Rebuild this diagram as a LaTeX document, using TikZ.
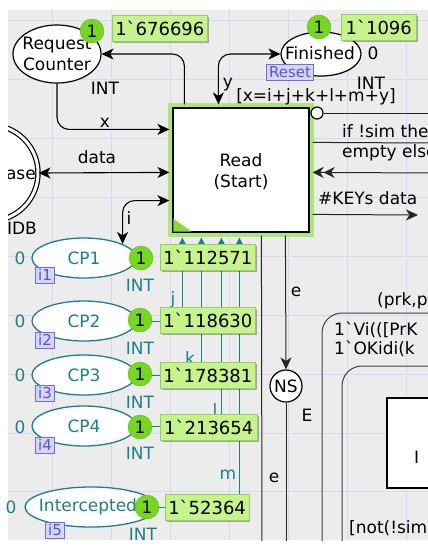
\documentclass[tikz,border=0pt]{standalone}
\usepackage{fontspec}
\newfontfamily\cpnfont{DejaVu Sans}
\usetikzlibrary{arrows.meta,shapes.geometric,calc,shadows}
\definecolor{bg}{RGB}{236,236,236}
\definecolor{gridc}{RGB}{216,216,238}
\definecolor{tokg}{RGB}{118,216,30}
\definecolor{boxg}{RGB}{198,244,140}
\definecolor{boxgb}{RGB}{150,205,100}
\definecolor{tealc}{RGB}{30,128,130}
\definecolor{blueb}{RGB}{110,110,228}
\definecolor{bluef}{RGB}{214,214,250}
\definecolor{bluet}{RGB}{84,84,218}
\definecolor{glowc}{RGB}{176,230,120}
\definecolor{tric}{RGB}{136,218,56}
\tikzset{
  fnt/.style={font=\cpnfont\fontsize{17}{21}\selectfont},
  txt/.style={fnt, inner sep=0pt, align=center},
  ttxt/.style={txt, text=tealc},
  ltxt/.style={fnt, inner sep=0pt, anchor=west},
  bplace/.style={ellipse, draw=black, line width=1.2pt, fill=white, inner sep=0pt},
  tplace/.style={ellipse, draw=tealc, line width=1.3pt, fill=white, inner sep=0pt, minimum width=104pt, minimum height=40pt},
  trans/.style={rectangle, draw=black, line width=1.2pt, fill=white, inner sep=0pt},
  tok/.style={circle, fill=tokg, draw=tokg!85!black, line width=0.4pt, minimum size=24pt, inner sep=0pt, fnt},
  tokbox/.style={rectangle, fill=boxg, draw=boxgb, line width=0.5pt, font=\cpnfont\fontsize{18}{21}\selectfont, inner xsep=3pt, inner ysep=0pt, minimum height=26pt, anchor=west, drop shadow={shadow xshift=1.5pt, shadow yshift=-1.5pt, opacity=0.3, fill=black}},
  ibox/.style={rectangle, draw=blueb, fill=bluef, text=bluet, line width=1pt, font=\cpnfont\fontsize{15}{16}\selectfont, inner xsep=2.5pt, inner ysep=0pt, minimum height=16pt},
  >={Stealth[length=12pt,width=11pt,inset=3.5pt]},
  arc/.style={draw=black, line width=1.1pt, rounded corners=12pt},
  tarc/.style={draw=tealc, line width=1pt, -{Triangle[length=8pt,width=8pt]}},
  pline/.style={draw=black!85, line width=1pt},
}
\begin{document}
\begin{tikzpicture}[x=1pt,y=-1pt]
\useasboundingbox (0,0) rectangle (428,550);
\fill[white] (0,0) rectangle (428,550);
\begin{scope}
\clip (8,10) rectangle (428,540);
\fill[bg] (8,10) rectangle (428,540);
\foreach \gx in {52,111,170,229,288,347,406}{\draw[gridc, line width=0.8pt] (\gx,10) -- (\gx,540);}
\foreach \gy in {20,79,138,197,256,315,374,433,491}{\draw[gridc, line width=0.8pt] (8,\gy) -- (428,\gy);}

% rounded boxes on the right
\draw[black!75, line width=1pt, rounded corners=20pt] (322,560) -- (322,313) -- (445,313);
\draw[black!75, line width=1pt, rounded corners=20pt] (342,560) -- (342,366) -- (445,366);
\draw[black, line width=1.5pt, fill=white] (445,398) -- (387,398) -- (387,488) -- (445,488);
\node[ltxt] (subt) at (414,457) {I};

% places and transition
\node[bplace, minimum width=88pt, minimum height=58pt] (rc) at (57,54) {};
\node[bplace, minimum width=80pt, minimum height=44pt] (fin) at (321,54) {};
\node[circle, draw=black, double, double distance=3pt, line width=1.2pt, fill=white, minimum size=96pt, inner sep=0pt] (db) at (-10,173) {};
\node[tplace] (cp1) at (84,258) {};
\node[tplace] (cp2) at (84,321) {};
\node[tplace] (cp3) at (84,375) {};
\node[tplace] (cp4) at (84,426) {};
\node[tplace, minimum width=132pt] (cpi) at (91,507) {};
\node[circle, draw=black, line width=1.2pt, fill=white, minimum size=32pt, inner sep=0pt, fnt] (ns) at (286,386) {NS};
\node[trans, minimum width=136pt, minimum height=124pt, preaction={draw=glowc, line width=10pt}] (read) at (241,170) {};
\fill[tric] ($(read.south west)+(1,-14)$) -- ($(read.south west)+(1,-1)$) -- ($(read.south west)+(19,-1)$) -- cycle;

% black arcs
\draw[arc, ->] ($(read.north west)+(12,-3)$) |- (rc.east);
\draw[arc, ->] (rc.south) |- ($(read.north west)+(-3,22)$);
\draw[arc, <->] (db.east) -- ($(read.north west)+(-3,65)$);
\draw[arc, <->] (cp1.20) |- ($(read.south west)+(-3,-32)$);
\draw[arc, <->] ($(read.north west)+(46,-3)$) |- (fin.west);

% teal arcs
\draw[tarc] (cp2.east) -| ($(read.south west)+(10,5)$);
\draw[tarc] (cp3.east) -| ($(read.south west)+(29,5)$);
\draw[tarc] (cp4.east) -| ($(read.south west)+(49,5)$);
\draw[tarc] (cpi.east) -| ($(read.south west)+(67,5)$);

% lower arcs
\coordinate (eout) at (262,545);
\draw[pline] ($(read.south west)+(89,3)$) -- (eout);
\draw[pline, ->] ($(read.south west)+(113,3)$) -- (ns.north);
\coordinate (nsout) at (286,545);
\draw[pline] (ns.south) -- (nsout);

% right arcs
\node[circle, draw=black, line width=1.2pt, fill=white, minimum size=12pt, inner sep=0pt] (inh) at (317,113) {};
\coordinate (r1) at (432,113);
\draw[pline] (inh.east) -- (r1);
\coordinate (r2) at (432,143);
\draw[pline] ($(read.north east)+(3,35)$) -- (r2);
\coordinate (r3) at (432,173);
\draw[pline, {Stealth[length=11pt,width=11pt,inset=3.5pt]Stealth[length=11pt,width=11pt,inset=3.5pt]}-] ($(read.north east)+(3,65)$) -- (r3);
\coordinate (r4) at (418,215);
\draw[pline, ->] ($(read.north east)+(3,107)$) -- (r4);

% texts of nodes
\node[txt] (rct) at (57,54) {Request\\Counter};
\node[txt] (fint) at (320,53) {Finished};
\node[txt, anchor=east] (dbt) at (36,173) {Database};
\node[txt] (dbcol) at (22,228) {IDB};
\node[txt] (readt) at (241,172) {Read\\(Start)};
\node[ttxt] (cp1t) at (84,258) {CP1};
\node[ttxt] (cp2t) at (84,321) {CP2};
\node[ttxt] (cp3t) at (84,375) {CP3};
\node[ttxt] (cp4t) at (84,426) {CP4};
\node[ttxt] (cpit) at (88,507) {Intercepted};

% inscriptions
\node[txt] (rcint) at (105,88) {INT};
\node[txt] (lx) at (105,123) {x};
\node[txt] (ldata) at (97,157) {data};
\node[txt] (li) at (129,218) {i};
\node[txt] (ly) at (228,85) {y};
\node[txt] (fin0) at (373,53) {0};
\node[txt] (finint) at (371,83) {INT};
\node[ibox] (reset) at (290,72) {Reset};
\node[txt] (guard) at (316,97) {[x=i+j+k+l+m+y]};
\node[ltxt] (ifsim) at (342,131) {if !sim then};
\node[ltxt] (empt) at (342,153) {empty else};
\node[ltxt] (keys) at (318,198) {\#KEYs data};
\node[txt] (le1) at (296,292) {e};
\node[txt] (lE) at (307,415) {E};
\node[txt] (le2) at (274,478) {e};
\node[ltxt] (prk) at (377,301) {(prk,pk};
\node[ltxt] (vi) at (334,330) {1`Vi(([PrK};
\node[ltxt] (oki) at (334,349) {1`OKidi(k};
\node[ltxt] (notsim) at (349,528) {[not(!sim};

\node[ttxt] (lj) at (173,300) {j};
\node[ttxt] (lk) at (190,358) {k};
\node[ttxt] (ll) at (215,410) {l};
\node[ttxt] (lm) at (228,475) {m};

\node[ttxt] (z1) at (20,258) {0};
\node[ttxt] (z2) at (20,321) {0};
\node[ttxt] (z3) at (20,375) {0};
\node[ttxt] (z4) at (20,427) {0};
\node[ibox] (i1) at (45,275) {i1};
\node[ibox] (i2) at (45,340) {i2};
\node[ibox] (i3) at (45,393) {i3};
\node[ibox] (i4) at (45,445) {i4};
\node[ibox] (i5) at (55,530) {i5};
\node[ttxt] (int1) at (140,285) {INT};
\node[ttxt] (int2) at (140,348) {INT};
\node[ttxt] (int3) at (140,402) {INT};
\node[ttxt] (int4) at (140,453) {INT};
\node[ttxt] (int5) at (143,534) {INT};

% tokens
\node[tok] (rctok) at (92,31) {1};
\node[tokbox, minimum width=95pt] (rcbox) at (112,28) {1`676696};
\node[tok] (fintok) at (319,27) {1};
\node[tokbox, minimum width=75pt] (finbox) at (341,27) {1`1096};
\node[tok] (t1) at (141,258) {1};
\node[tokbox, minimum width=93pt] (b1) at (160,257) {1`112571};
\node[tok] (t2) at (140,320) {1};
\node[tokbox, minimum width=95pt] (b2) at (160,320) {1`118630};
\node[tok] (t3) at (140,374) {1};
\node[tokbox, minimum width=95pt] (b3) at (160,375) {1`178381};
\node[tok] (t4) at (140,427) {1};
\node[tokbox, minimum width=97pt] (b4) at (160,427) {1`213654};
\node[tok] (t5) at (147,507) {1};
\node[tokbox, minimum width=83pt] (b5) at (165,507) {1`52364};
\end{scope}
\node[ttxt] (z5) at (11,507) {0};
\end{tikzpicture}
\end{document}
